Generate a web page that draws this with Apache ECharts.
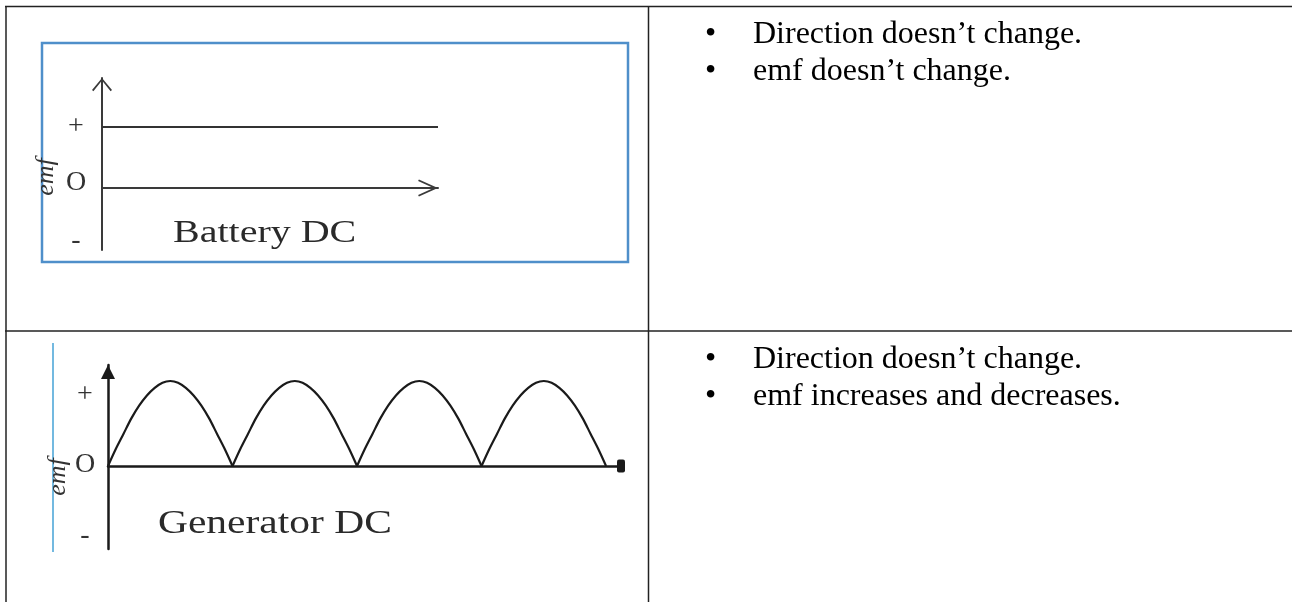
<!DOCTYPE html>
<html>
<head>
<meta charset="utf-8">
<script src="https://cdn.jsdelivr.net/npm/echarts@6.0.0/dist/echarts.min.js"></script>
<style>
  html, body { margin: 0; padding: 0; background: #fff; }
  #chart { width: 1292px; height: 602px; }
</style>
</head>
<body>
<div id="chart"></div>
<script>
// battery: constant emf
var batteryTime = [0, 1];
var batteryEmf = [1, 1];

// generator: rectified emf (4 humps, zero at each cusp)
var genTime = [0, 0.0625, 0.125, 0.1875, 0.25, 0.3125, 0.375, 0.4375, 0.5, 0.5625, 0.625, 0.6875, 0.75, 0.8125, 0.875, 0.9375,
               1, 1.0625, 1.125, 1.1875, 1.25, 1.3125, 1.375, 1.4375, 1.5, 1.5625, 1.625, 1.6875, 1.75, 1.8125, 1.875, 1.9375,
               2, 2.0625, 2.125, 2.1875, 2.25, 2.3125, 2.375, 2.4375, 2.5, 2.5625, 2.625, 2.6875, 2.75, 2.8125, 2.875, 2.9375,
               3, 3.0625, 3.125, 3.1875, 3.25, 3.3125, 3.375, 3.4375, 3.5, 3.5625, 3.625, 3.6875, 3.75, 3.8125, 3.875, 3.9375, 4];
var genEmf = [0, 0.2, 0.38, 0.56, 0.71, 0.83, 0.92, 0.98, 1, 0.98, 0.92, 0.83, 0.71, 0.56, 0.38, 0.2,
              0, 0.2, 0.38, 0.56, 0.71, 0.83, 0.92, 0.98, 1, 0.98, 0.92, 0.83, 0.71, 0.56, 0.38, 0.2,
              0, 0.2, 0.38, 0.56, 0.71, 0.83, 0.92, 0.98, 1, 0.98, 0.92, 0.83, 0.71, 0.56, 0.38, 0.2,
              0, 0.2, 0.38, 0.56, 0.71, 0.83, 0.92, 0.98, 1, 0.98, 0.92, 0.83, 0.71, 0.56, 0.38, 0.2, 0];

// y tick labels
var tickText = ['+', 'O', '-'];
var topTickValues = [1, 0.08, -0.87];
var bottomTickValues = [0.835, 0.02, -0.82];

var chartTitles = ['Battery DC', 'Generator DC'];
var topNotes = ['Direction doesn\u2019t change.', 'emf doesn\u2019t change.'];
var bottomNotes = ['Direction doesn\u2019t change.', 'emf increases and decreases.'];

var SERIF = '"Liberation Serif", "Times New Roman", serif';

function tickFormatter(values) {
  return function (v) {
    var best = 0;
    for (var i = 1; i < values.length; i++) {
      if (Math.abs(values[i] - v) < Math.abs(values[best] - v)) best = i;
    }
    return tickText[best];
  };
}

// split the generator curve at its cusps so each hump is smoothed on its own
function humps() {
  var out = [];
  var cur = [];
  for (var i = 0; i < genTime.length; i++) {
    cur.push([genTime[i], genEmf[i]]);
    if (genEmf[i] === 0 && cur.length > 1) {
      out.push(cur);
      cur = [[genTime[i], genEmf[i]]];
    }
  }
  return out;
}

var chevronY = 'path://M10,0 L20,12 L18.6,13.2 L10,2.6 L1.4,13.2 L0,12 Z';
var chevronX = 'path://M8.5,0 L17,19 L15.4,19.8 L8.5,4.4 L1.6,19.8 L0,19 Z';

var chart = echarts.init(document.getElementById('chart'));

var series = [{
  type: 'line',
  xAxisIndex: 0,
  yAxisIndex: 0,
  data: batteryTime.map(function (t, i) { return [t, batteryEmf[i]]; }),
  showSymbol: false,
  lineStyle: { color: '#333', width: 2 }
}];
humps().forEach(function (h) {
  series.push({
    type: 'line',
    xAxisIndex: 1,
    yAxisIndex: 1,
    data: h,
    smooth: 0.3,
    showSymbol: false,
    lineStyle: { color: '#1a1a1a', width: 2.2 }
  });
});

var notes = [];
[[topNotes, 35], [bottomNotes, 360]].forEach(function (block) {
  block[0].forEach(function (txt, i) {
    var y = block[1] + i * 37;
    notes.push({
      type: 'text', x: 705, y: y,
      style: { text: '\u2022', font: '32px ' + SERIF, fill: '#000',
               align: 'left', verticalAlign: 'middle', textAlign: 'left', textVerticalAlign: 'middle' }
    });
    notes.push({
      type: 'text', x: 753, y: y,
      style: { text: txt, font: '32px ' + SERIF, fill: '#000',
               align: 'left', verticalAlign: 'middle', textAlign: 'left', textVerticalAlign: 'middle' }
    });
  });
});

chart.setOption({
  animation: false,
  backgroundColor: '#fff',
  grid: [
    { left: 102, top: 78, width: 336, height: 172, outerBoundsMode: 'none' },
    { left: 108, top: 365, width: 513, height: 184, outerBoundsMode: 'none' }
  ],
  xAxis: [
    {
      gridIndex: 0, type: 'value', min: 0, max: 1,
      axisLine: { show: true, onZero: true, symbol: ['none', chevronX], symbolSize: [17, 19.8], symbolOffset: [0, -10],
                  lineStyle: { color: '#3a3a3a', width: 2 } },
      axisTick: { show: false }, axisLabel: { show: false }, splitLine: { show: false }
    },
    {
      gridIndex: 1, type: 'value', min: 0, max: 4.12,
      axisLine: { show: true, onZero: true, symbol: ['none', 'roundRect'], symbolSize: [13, 8],
                  lineStyle: { color: '#1a1a1a', width: 2.5 } },
      axisTick: { show: false }, axisLabel: { show: false }, splitLine: { show: false }
    }
  ],
  yAxis: [
    {
      gridIndex: 0, type: 'value', min: -1.016, max: 1.803,
      name: 'emf', nameLocation: 'middle', nameRotate: 90, nameGap: 43,
      nameTextStyle: { fontFamily: SERIF, fontStyle: 'italic', fontSize: 26, color: '#333', padding: [0, 26, 0, 0] },
      axisLine: { show: true, symbol: ['none', chevronY], symbolSize: [20, 13.2], symbolOffset: [0, -6.6],
                  lineStyle: { color: '#3a3a3a', width: 2 } },
      axisTick: { show: false }, splitLine: { show: false },
      axisLabel: { customValues: topTickValues, formatter: tickFormatter(topTickValues),
                   align: 'center', margin: 26, fontFamily: SERIF, fontSize: 28, color: '#333' }
    },
    {
      gridIndex: 1, type: 'value', min: -0.976, max: 1.188,
      name: 'emf', nameLocation: 'middle', nameRotate: 90, nameGap: 37,
      nameTextStyle: { fontFamily: SERIF, fontStyle: 'italic', fontSize: 26, color: '#333', padding: [0, 40, 0, 0] },
      axisLine: { show: true, symbol: ['none', 'triangle'], symbolSize: [14, 14], symbolOffset: [0, -7],
                  lineStyle: { color: '#1a1a1a', width: 2.5 } },
      axisTick: { show: false }, splitLine: { show: false },
      axisLabel: { customValues: bottomTickValues, formatter: tickFormatter(bottomTickValues),
                   align: 'center', margin: 23, fontFamily: SERIF, fontSize: 28, color: '#333' }
    }
  ],
  series: series,
  graphic: [
    // table rules
    { type: 'line', shape: { x1: 5, y1: 6.5, x2: 1292, y2: 6.5 }, style: { stroke: '#222', lineWidth: 1.5 } },
    { type: 'line', shape: { x1: 5, y1: 331, x2: 1292, y2: 331 }, style: { stroke: '#222', lineWidth: 1.5 } },
    { type: 'line', shape: { x1: 6, y1: 6, x2: 6, y2: 602 }, style: { stroke: '#222', lineWidth: 1.5 } },
    { type: 'line', shape: { x1: 648.5, y1: 6, x2: 648.5, y2: 602 }, style: { stroke: '#222', lineWidth: 1.5 } },
    // picture frames
    { type: 'rect', shape: { x: 42, y: 43, width: 586, height: 219 },
      style: { fill: 'none', stroke: '#4f8fca', lineWidth: 2.5 } },
    { type: 'line', shape: { x1: 53, y1: 343, x2: 53, y2: 552 }, style: { stroke: '#45a2d6', lineWidth: 1.5 } },
    // chart captions
    { type: 'text', x: 173, y: 234, scaleX: 1.25,
      style: { text: chartTitles[0], font: '32px ' + SERIF, fill: '#2a2a2a',
               align: 'left', verticalAlign: 'middle', textAlign: 'left', textVerticalAlign: 'middle' } },
    { type: 'text', x: 158, y: 524, scaleX: 1.22,
      style: { text: chartTitles[1], font: '34px ' + SERIF, fill: '#2a2a2a',
               align: 'left', verticalAlign: 'middle', textAlign: 'left', textVerticalAlign: 'middle' } }
  ].concat(notes)
});
</script>
</body>
</html>
